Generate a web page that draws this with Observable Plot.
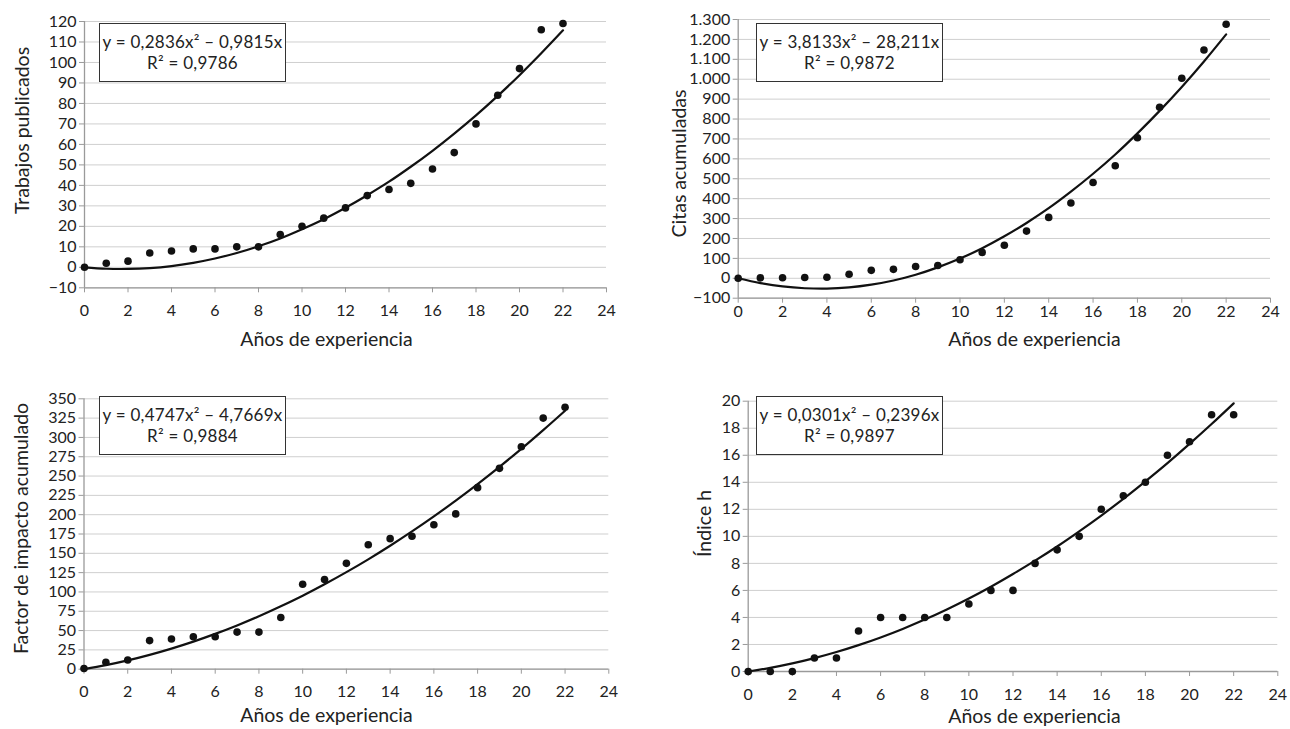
<!DOCTYPE html>
<html><head><meta charset="utf-8">
<script src="https://cdn.jsdelivr.net/npm/d3@7"></script>
<script src="https://cdn.jsdelivr.net/npm/@observablehq/plot@0.6"></script>
<style>
body{margin:0;background:#fff;}
#root{position:relative;width:1290px;height:729px;overflow:hidden;font-family:Lato,sans-serif;}
.panel{position:absolute;}
.eq{position:absolute;box-sizing:border-box;border:1px solid #333;background:#fff;text-align:center;font-size:17px;letter-spacing:0.25px;line-height:20.5px;padding-top:8px;color:#222;white-space:nowrap}
</style></head><body><div id="root"></div>
<script>
// ---- data ----
const years = [0,1,2,3,4,5,6,7,8,9,10,11,12,13,14,15,16,17,18,19,20,21,22];
const xTicks = [0,2,4,6,8,10,12,14,16,18,20,22,24];

const trabajos = [0,2,3,7,8,9,9,10,10,16,20,24,29,35,38,41,48,56,70,84,97,116,119];
const trendTrabajos = [0,-0.7,-0.8,-0.4,0.6,2.2,4.3,7.0,10.3,14.1,18.6,23.5,29.1,35.2,41.8,49.1,56.9,65.3,74.2,83.7,93.8,104.5,115.7];
const ticksTrabajos = [-10,0,10,20,30,40,50,60,70,80,90,100,110,120];

const citas = [0,2,3,4,5,20,40,45,59,64,93,130,166,237,306,378,481,565,706,859,1005,1147,1276];
const trendCitas = [0,-24,-41,-50,-52,-46,-32,-11,18,55,99,151,211,278,352,435,525,622,728,841,961,1089,1225];
const ticksCitas = [-100,0,100,200,300,400,500,600,700,800,900,1000,1100,1200,1300];

const factor = [1,9,12,37,39,42,42,48,48,67,110,116,137,161,169,172,187,201,235,260,288,325,339];
const trendFactor = [0,5.2,11.4,18.6,26.7,35.7,45.7,56.6,68.5,81.4,95.1,109.9,125.6,142.2,159.8,178.3,197.8,218.2,239.6,261.9,285.2,309.5,334.6];
const ticksFactor = [0,25,50,75,100,125,150,175,200,225,250,275,300,325,350];

const indiceH = [0,0,0,1,1,3,4,4,4,4,5,6,6,8,9,10,12,13,14,16,17,19,19];
const trendH = [0,0.27,0.6,0.99,1.44,1.95,2.52,3.15,3.84,4.59,5.4,6.27,7.21,8.2,9.25,10.37,11.54,12.77,14.07,15.42,16.84,18.31,19.84];
const ticksH = [0,2,4,6,8,10,12,14,16,18,20];

const yTitles = ["Trabajos publicados","Citas acumuladas","Factor de impacto acumulado","Índice h"];
const xTitle = "Años de experiencia";
const eqLines = [
  ["y = 0,2836x² – 0,9815x","R² = 0,9786"],
  ["y = 3,8133x² – 28,211x","R² = 0,9872"],
  ["y = 0,4747x² – 4,7669x","R² = 0,9884"],
  ["y = 0,0301x² – 0,2396x","R² = 0,9897"]
];

// ---- layout ----
const fmt = d => {
  const a = Math.abs(d);
  const s = a >= 1000 ? d3.format(",")(a).replace(/,/g, ".") : String(a);
  return d < 0 ? "\u2212" + s : s;
};

const panels = [
  {L:0, T:0, W:645, H:360, ml:84, mr:39, mt:21, mb:72.7, vals:trabajos, trend:trendTrabajos, ticks:ticksTrabajos, xpad:17,
   yt:[15,130], xt:[326,332], eq:[99,23]},
  {L:645, T:0, W:645, H:360, ml:92.7, mr:20, mt:19, mb:62.3, vals:citas, trend:trendCitas, ticks:ticksCitas, xpad:7,
   yt:[672,163], xt:[1034,332], eq:[756,23]},
  {L:0, T:360, W:645, H:369, ml:83.5, mr:36.7, mt:38.3, mb:60.3, vals:factor, trend:trendFactor, ticks:ticksFactor, xpad:16,
   yt:[14,528], xt:[326,708], eq:[99,396]},
  {L:645, T:360, W:645, H:369, ml:102.7, mr:12.7, mt:40.7, mb:58, vals:indiceH, trend:trendH, ticks:ticksH, xpad:17,
   yt:[697,523], xt:[1034,709], eq:[756,396]}
];

const root = document.getElementById("root");
const axisColor = "#9a9a9a";
const gridColor = "#cfcfcf";

panels.forEach((p, i) => {
  const ymin = p.ticks[0], ymax = p.ticks[p.ticks.length - 1];
  const pts = years.map((x, k) => ({x, y: p.vals[k]}));
  const tr = years.map((x, k) => ({x, y: p.trend[k]}));
  const fx = p.L + p.ml, fy = p.T + p.mt;
  const chart = Plot.plot({
    width: p.W, height: p.H,
    marginLeft: p.ml, marginRight: p.mr, marginTop: p.mt, marginBottom: p.mb,
    style: {fontFamily: 'Lato, sans-serif', fontSize: "16px", color: "#222", background: "transparent"},
    x: {domain: [0, 24]},
    y: {domain: [ymin, ymax]},
    marks: [
      Plot.gridY(p.ticks, {stroke: gridColor, strokeOpacity: 1, strokeWidth: 1}),
      Plot.ruleX([0], {stroke: axisColor, strokeWidth: 1.3}),
      Plot.ruleY([ymin], {stroke: axisColor, strokeWidth: 1.3}),
      Plot.axisY(p.ticks, {tickSize: 5, tickPadding: 3, stroke: axisColor, fill: "#222", tickFormat: fmt, label: null, fontSize: 16}),
      Plot.axisX(xTicks, {tickSize: 5, tickPadding: p.xpad - 5, stroke: axisColor, fill: "#222", label: null, fontSize: 16}),
      Plot.line(tr, {x: "x", y: "y", stroke: "#111", strokeWidth: 2.2, curve: "catmull-rom"}),
      Plot.dot(pts, {x: "x", y: "y", r: 3.8, fill: "#111", stroke: "none"}),
      Plot.text([xTitle], {frameAnchor: "top-left", dx: p.xt[0] - fx, dy: p.xt[1] - fy, fontSize: 19.5, fill: "#222", textAnchor: "middle"}),
      Plot.text([yTitles[i]], {frameAnchor: "top-left", dx: p.yt[0] - fx, dy: p.yt[1] - fy, fontSize: 19.5, fill: "#222", textAnchor: "middle", rotate: -90})
    ]
  });
  const div = document.createElement("div");
  div.className = "panel";
  div.style.left = p.L + "px";
  div.style.top = p.T + "px";
  div.appendChild(chart);
  root.appendChild(div);

  const eq = document.createElement("div");
  eq.className = "eq";
  eq.style.left = p.eq[0] + "px";
  eq.style.top = p.eq[1] + "px";
  eq.style.width = "187px";
  eq.style.height = "59px";
  eq.innerHTML = eqLines[i].map(s => `<div>${s}</div>`).join("");
  root.appendChild(eq);
});
</script></body></html>
